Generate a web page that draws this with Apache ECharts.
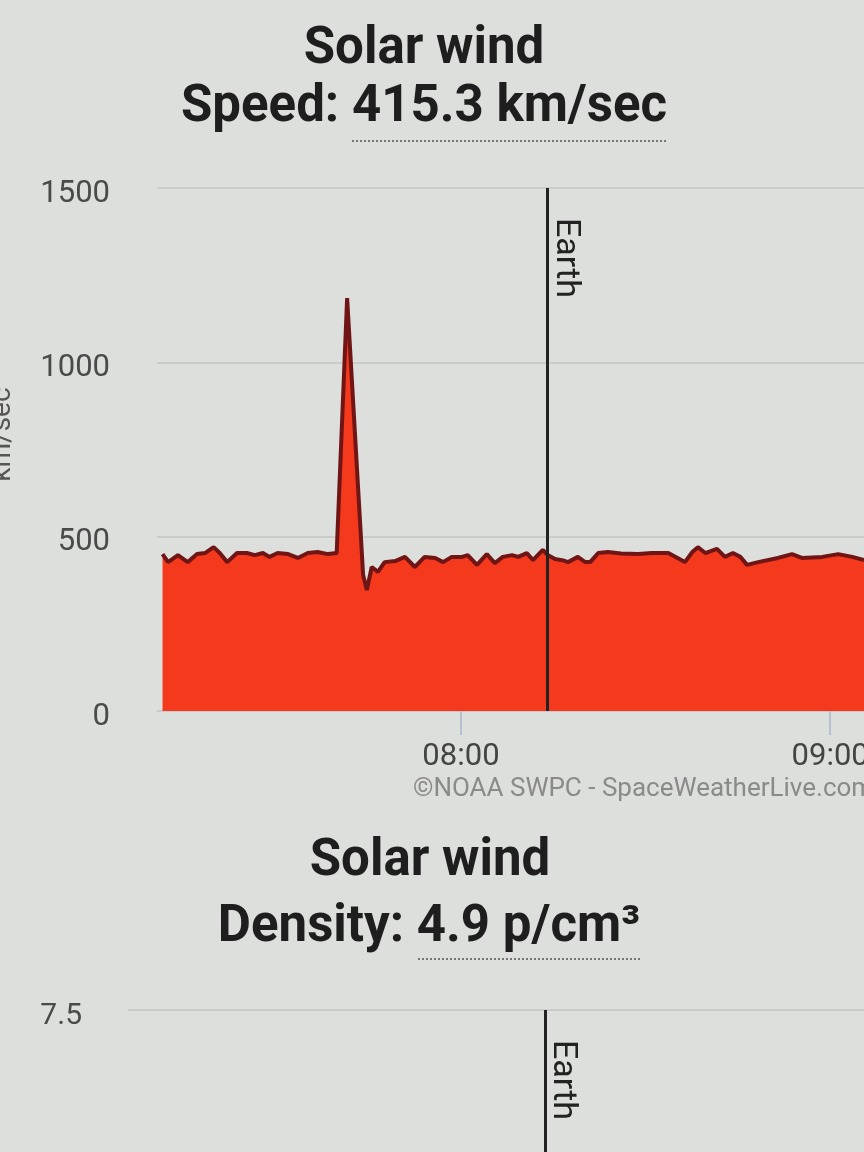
<!DOCTYPE html>
<html><head><meta charset="utf-8">
<script src="https://cdn.jsdelivr.net/npm/echarts@6/dist/echarts.min.js"></script>
<style>html,body{margin:0;padding:0;background:#dcdfdb;} #c{width:864px;height:1152px;}</style>
</head><body><div id="c"></div>
<script>
// minutes since midnight (UTC) and speed in km/sec
const speedTimes = [431.5,432.4,434.0,435.6,437.1,438.4,439.8,440.8,442.0,443.6,445.2,446.5,447.8,448.9,450.2,451.9,453.5,455.1,456.7,458.4,459.8,461.5,464.1,464.7,465.5,466.5,467.6,469.3,470.9,472.5,474.1,475.8,477.1,478.5,480.2,481.1,482.6,484.2,485.5,486.8,488.3,489.3,490.7,491.7,493.3,494.1,495.3,496.6,497.4,499.0,500.2,501.0,502.3,503.9,506.0,508.8,511.0,513.7,516.4,517.6,518.5,519.7,521.6,522.9,524.2,525.4,526.5,528.3,531.5,533.8,535.4,538.7,541.3,543.6,545.5];
const speedValues = [450,427,447,427,450,453,470,453,427,453,453,447,453,442,453,450,439,453,456,450,453,1184,390,347,413,399,427,430,442,413,442,439,427,442,442,447,419,450,424,442,447,442,453,433,462,447,436,432,427,442,427,427,453,456,452,450,453,453,427,456,470,453,465,442,453,442,419,427,439,450,439,442,450,442,433];
const timeTicks = [480, 540];
const earthTime = 494.1;
const speedRange = [0, 1500, 500];
const densityRange = [0, 7.5, 2.5];
const densityData = [];
const titleTop = ['Solar wind', 'Speed: 415.3 km/sec'];
const titleBottom = ['Solar wind', 'Density: 4.9 p/cm\u00b3'];
const creditText = '\u00a9NOAA SWPC - SpaceWeatherLive.com';

function fmt(m){const h=Math.floor(m/60),mm=Math.round(m-h*60);return String(h).padStart(2,'0')+':'+String(mm).padStart(2,'0');}

const FONT = 'Roboto, "Noto Sans", sans-serif';
const chart = echarts.init(document.getElementById('c'));
const earthLine = (top) => ({
  silent:true, symbol:'none', animation:false,
  lineStyle:{color:'#222', width:3, type:'solid'},
  label:{show:true, formatter:'Earth', position:'insideStartTop', distance:[30,1], color:'#222', fontSize:34, fontFamily:FONT},
  data:[[{coord:[earthTime, top]},{coord:[earthTime, 0]}]]
});
const yLabel = (size) => ({
  margin:47, color:'#4a4a4a', fontFamily:FONT, fontSize:size,
  formatter:(v)=>'{a|'+String(v)+'}',
  rich:{a:{fontSize:size, color:'#4a4a4a', fontFamily:FONT, padding:[12,0,0,0]}}
});
chart.setOption({
  animation:false,
  backgroundColor:'#dcdfdb',
  grid:[
    {left:157, right:0, top:188, height:523, containLabel:false, outerBoundsMode:'none'},
    {left:128, right:0, top:1010, height:523, containLabel:false, outerBoundsMode:'none'}
  ],
  xAxis:[
    {type:'value', gridIndex:0, min:430.6, max:545.5,
     axisLine:{show:true, lineStyle:{color:'#c3c9cf', width:1.5}},
     axisTick:{show:true, customValues:timeTicks, length:24, lineStyle:{color:'#b7c0cc', width:2}},
     axisLabel:{customValues:timeTicks, formatter:fmt, margin:31, fontSize:31, color:'#444', fontFamily:FONT},
     splitLine:{show:false}},
    {type:'value', gridIndex:1, min:426.3, max:546.0,
     axisLine:{show:false}, axisTick:{show:false}, axisLabel:{show:false}, splitLine:{show:false}}
  ],
  yAxis:[
    {type:'value', gridIndex:0, min:speedRange[0], max:speedRange[1], interval:speedRange[2],
     name:'km/sec', nameLocation:'middle', nameGap:140, nameTextStyle:{fontSize:28, color:'#555', fontFamily:FONT, padding:[0,0,0,30]},
     axisLine:{show:false}, axisTick:{show:false},
     axisLabel:yLabel(31),
     splitLine:{lineStyle:{color:'#c3c6c4', width:1.5}}},
    {type:'value', gridIndex:1, min:densityRange[0], max:densityRange[1], interval:densityRange[2],
     axisLine:{show:false}, axisTick:{show:false},
     axisLabel:Object.assign(yLabel(30), {margin:46}),
     splitLine:{lineStyle:{color:'#c3c6c4', width:1.5}}}
  ],
  series:[
    {type:'line', xAxisIndex:0, yAxisIndex:0,
     data:speedTimes.map((t,i)=>[t, speedValues[i]]),
     showSymbol:false, lineStyle:{color:'#701515', width:4}, areaStyle:{color:'#f4391d', opacity:1},
     markLine:earthLine(speedRange[1])},
    {type:'line', xAxisIndex:1, yAxisIndex:1, data:densityData, showSymbol:false,
     lineStyle:{color:'#2a8a2a'}, markLine:earthLine(densityRange[1])}
  ],
  graphic:[
    {type:'text', x:424, y:50, style:{text:titleTop[0], font:'bold 51px '+FONT, fill:'#1e1e1e', textAlign:'center', textVerticalAlign:'middle'}},
    {type:'text', x:424, y:108, style:{text:titleTop[1], font:'bold 51px '+FONT, fill:'#1e1e1e', textAlign:'center', textVerticalAlign:'middle'}},
    {type:'line', shape:{x1:352,y1:141,x2:668,y2:141}, style:{stroke:'#777', lineWidth:2, lineDash:[2,2]}},
    {type:'text', x:413, y:789, style:{text:creditText, font:'26px '+FONT, fill:'#8a8a8a', textVerticalAlign:'middle'}},
    {type:'text', x:430, y:862, style:{text:titleBottom[0], font:'bold 51px '+FONT, fill:'#1e1e1e', textAlign:'center', textVerticalAlign:'middle'}},
    {type:'text', x:429, y:928, style:{text:titleBottom[1], font:'bold 51px '+FONT, fill:'#1e1e1e', textAlign:'center', textVerticalAlign:'middle'}},
    {type:'line', shape:{x1:418,y1:959,x2:640,y2:959}, style:{stroke:'#777', lineWidth:2, lineDash:[2,2]}}
  ]
});
</script></body></html>
